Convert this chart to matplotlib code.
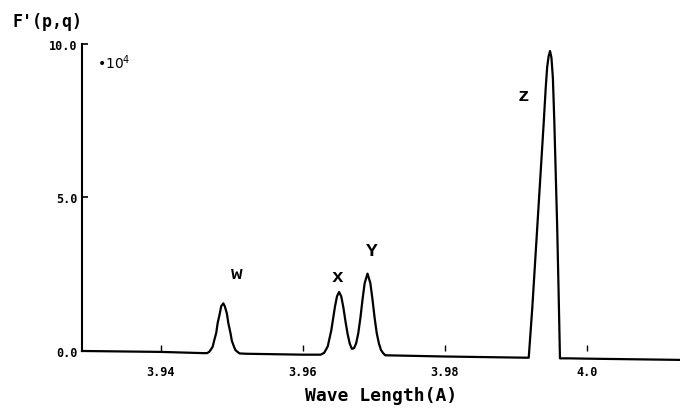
#!/usr/bin/env python

'''Spectrum F'(p,q) against wave length, lines w, x, y, z'''

import matplotlib
matplotlib.use('Agg')
import matplotlib.pyplot as plt

# traced spectrum: wave length (A) and intensity (x 10^4)
wave = [3.9289, 3.9400, 3.9460,
        # w
        3.9465, 3.9468, 3.9470, 3.9473, 3.9475, 3.9478, 3.9480, 3.9483,
        3.9485, 3.9488, 3.9490, 3.9493, 3.9495, 3.9498, 3.9500, 3.9503,
        3.9505, 3.9508, 3.9511,
        3.9520, 3.9600,
        # x and Y
        3.9625, 3.9630, 3.9635, 3.9640, 3.9645, 3.9648, 3.9651, 3.9654,
        3.9657, 3.9660, 3.9663, 3.9666, 3.9669, 3.9672, 3.9675, 3.9678,
        3.9681, 3.9684, 3.9687, 3.9691, 3.9695, 3.9698, 3.9701, 3.9704,
        3.9707, 3.9710, 3.9713, 3.9716,
        3.9800,
        # z
        3.9918, 3.9923, 3.9927, 3.9931, 3.9935, 3.9939, 3.9942, 3.9944,
        3.9946, 3.9948, 3.9950, 3.9952, 3.9954, 3.9956, 3.9958, 3.9960,
        3.9962,
        3.9975, 4.0000, 4.0131]
intensity = [0.00, -0.03, -0.07,
             -0.07, -0.03, 0.03, 0.14, 0.33, 0.59, 0.91, 1.22,
             1.46, 1.55, 1.46, 1.22, 0.91, 0.59, 0.33, 0.14,
             0.03, -0.03, -0.08,
             -0.09, -0.12,
             -0.12, -0.06, 0.15, 0.67, 1.42, 1.78, 1.92, 1.78,
             1.42, 0.96, 0.55, 0.24, 0.07, 0.09, 0.25, 0.58,
             1.08, 1.68, 2.21, 2.52, 2.21, 1.68, 1.08, 0.58,
             0.25, 0.03, -0.07, -0.14,
             -0.18,
             -0.22, 1.40, 2.90, 4.40, 5.90, 7.40, 8.60, 9.25,
             9.60, 9.77, 9.55, 8.90, 7.50, 5.80, 4.10, 2.00,
             -0.24,
             -0.24, -0.25, -0.29]

line_names = ['w', 'x', 'Y', 'z']
line_pos = [3.9507, 3.9649, 3.9697, 3.9911]
line_lab_h = [2.51, 2.44, 3.26, 8.31]

x_ticks = [3.94, 3.96, 3.98, 4.0]
x_ticklabels = ['3.94', '3.96', '3.98', '4.0']
y_ticks = [0.0, 5.0, 10.0]
y_ticklabels = ['0.0', '5.0', '10.0']

fig = plt.figure(figsize=(6.8, 4.1), dpi=100)
ax = fig.add_axes([0.1206, 0.1415, 0.8794, 0.7488])

ax.plot(wave, intensity, color='black', lw=1.6, clip_on=False)

ax.set_xlim(3.9289, 4.0131)
ax.set_ylim(0, 10)

for sp in ['top', 'right', 'bottom']:
    ax.spines[sp].set_visible(False)
ax.spines['left'].set_linewidth(1.5)

tick_font = dict(family='DejaVu Sans Mono', weight='bold', size=8.5)
ax.set_xticks(x_ticks)
ax.set_xticklabels(x_ticklabels, fontdict=tick_font)
ax.set_yticks(y_ticks)
ax.set_yticklabels(y_ticklabels, fontdict=tick_font)
ax.tick_params(axis='x', direction='in', length=4, width=1, pad=10)
ax.tick_params(axis='y', direction='in', length=4, width=1.2, pad=3)

for name, pos, h in zip(line_names, line_pos, line_lab_h):
    ax.text(pos, h, name, ha='center', va='center', fontsize=14,
            family='Liberation Mono', weight='bold')

ax.set_xlabel('Wave Length(A)', family='DejaVu Sans Mono', weight='bold',
              fontsize=13, labelpad=6)

fig.text(0.019, 0.946, "F'(p,q)", family='DejaVu Sans Mono', weight='bold',
         fontsize=12, va='center', ha='left')
fig.text(0.143, 0.846, '•10$^4$', family='DejaVu Sans', fontsize=10,
         va='center', ha='left')

fig.savefig('out.png', dpi=100)
